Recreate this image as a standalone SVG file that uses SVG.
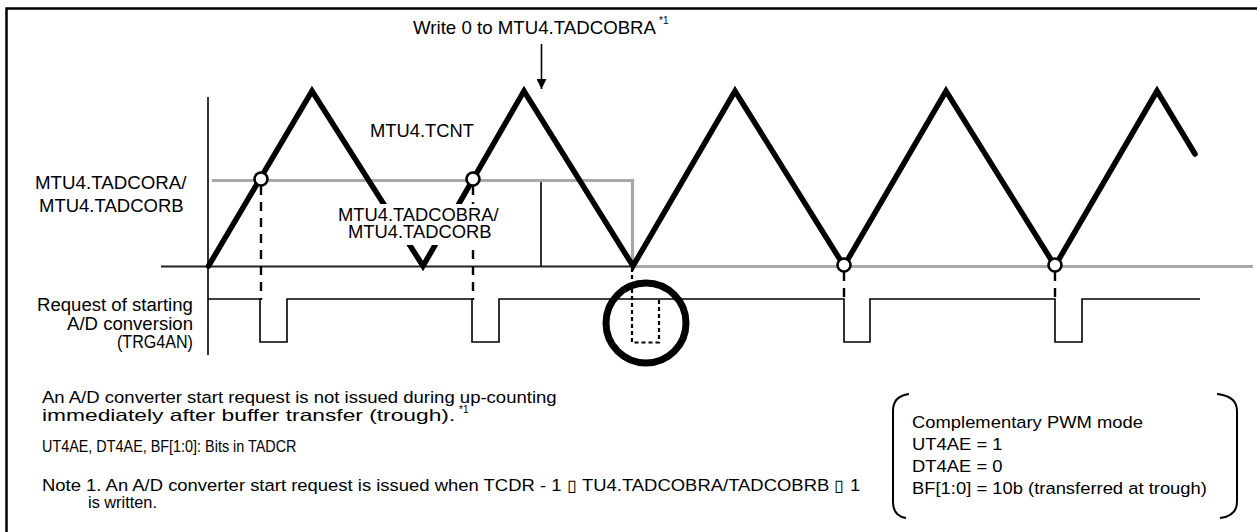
<svg xmlns="http://www.w3.org/2000/svg" width="1257" height="532" viewBox="0 0 1257 532">
<style>
text{font-family:"Liberation Sans",Arial,Helvetica,sans-serif;fill:#000}
.t{font-size:18px}
.n{font-size:16.5px}
.sup{font-size:10px}
.wave{fill:none;stroke:#000;stroke-width:5.5;stroke-linejoin:miter;stroke-linecap:round}
.thin{fill:none;stroke:#000;stroke-width:1.6}
.gray{fill:none;stroke:#a8a8a8;stroke-width:3.2}
.dash{fill:none;stroke:#000;stroke-width:2.4;stroke-dasharray:9 7}
.dot{fill:none;stroke:#000;stroke-width:2.2;stroke-dasharray:4 3}
.mk{fill:#fff;stroke:#000;stroke-width:2.6}
</style>
<defs>
<marker id="ah" viewBox="0 0 10 10" refX="10" refY="5" markerWidth="10" markerHeight="10" markerUnits="userSpaceOnUse" orient="auto">
<path d="M0,0 L10,5 L0,10 z" fill="#000"/>
</marker>
</defs>
<rect x="6.5" y="8.5" width="1270" height="540" fill="#fff" stroke="#000" stroke-width="2.5"/>

<g id="connectors">
<line x1="541.5" y1="44" x2="541.5" y2="89" stroke="#000" stroke-width="1.6" marker-end="url(#ah)"/>
<line class="thin" x1="208" y1="97" x2="208" y2="355"/>
<line x1="161" y1="266.5" x2="633" y2="266.5" stroke="#222" stroke-width="2.2"/>
<polyline class="gray" points="212,180.5 632.5,180.5 632.5,266.5 1253,266.5"/>
<line class="thin" x1="541" y1="182" x2="541" y2="266"/>
<path class="dash" d="M261,186 V300 M473,186 V300 M844,272 V300 M1055,272 V300"/>
<path class="dot" d="M632,268 V342.5 H659 V300"/>
<polyline class="wave" points="208.5,266 312,91 423,266 524,91 633,266 735,91 844,266 946,91 1055,266 1157,91 1195,154"/>
<path class="thin" d="M208,299 H260 V342 H287 V299 H472 V342 H499 V299 H844 V342 H870 V299 H1055 V342 H1082 V299 H1200"/>
<circle class="mk" cx="261" cy="179" r="6.5"/>
<circle class="mk" cx="473" cy="179" r="6.5"/>
<circle class="mk" cx="844" cy="265" r="6.5"/>
<circle class="mk" cx="1055" cy="265" r="6.5"/>
<circle cx="646" cy="323" r="40" fill="none" stroke="#000" stroke-width="7"/>
<path d="M909,394 Q893,396 893,411 V502 Q893,516 906,518" fill="none" stroke="#000" stroke-width="2"/>
<path d="M1217,394 Q1237,396 1237,411 V502 Q1237,516 1220,518" fill="none" stroke="#000" stroke-width="2"/>
</g>

<g id="title">
<text class="t" transform="translate(413,34) scale(1.038,1)">Write 0 to MTU4.TADCOBRA</text>
<text class="sup" x="659" y="24">*1</text>
</g>
<g id="tcnt">
<text class="t" transform="translate(370,137) scale(1.02,1)">MTU4.TCNT</text>
</g>
<g id="tadcora">
<text class="t" transform="translate(35,189) scale(1.04,1)">MTU4.TADCORA/</text>
<text class="t" transform="translate(39,212) scale(1.028,1)">MTU4.TADCORB</text>
</g>
<g id="tadcobra">
<rect x="336" y="204" width="168" height="41" fill="#fff"/>
<text class="t" transform="translate(338,221) scale(1.019,1)">MTU4.TADCOBRA/</text>
<text class="t" transform="translate(348,238) scale(1.021,1)">MTU4.TADCORB</text>
</g>
<g id="trg4an">
<text class="t" transform="translate(37,311) scale(1.032,1)">Request of starting</text>
<text class="t" transform="translate(67,330) scale(1.033,1)">A/D conversion</text>
<text class="t" transform="translate(117,348) scale(0.894,1)">(TRG4AN)</text>
</g>
<g id="notes">
<text class="n" transform="translate(42,403) scale(1.123,1)">An A/D converter start request is not issued during up-counting</text>
<text class="n" transform="translate(42,421) scale(1.38,1)">immediately after buffer transfer (trough).</text>
<text class="sup" x="459" y="413">*1</text>
<text class="n" transform="translate(42,452) scale(0.873,1)">UT4AE, DT4AE, BF[1:0]: Bits in TADCR</text>
<text class="n" transform="translate(42,491) scale(1.118,1)">Note 1. An A/D converter start request is issued when TCDR - 1 ▯ TU4.TADCOBRA/TADCOBRB ▯ 1</text>
<text class="n" transform="translate(88,508) scale(0.99,1)">is written.</text>
</g>
<g id="mode-box">
<text class="n" transform="translate(912,428) scale(1.115,1)">Complementary PWM mode</text>
<text class="n" transform="translate(912,450) scale(1.115,1)">UT4AE = 1</text>
<text class="n" transform="translate(912,472) scale(1.115,1)">DT4AE = 0</text>
<text class="n" transform="translate(912,494) scale(1.115,1)">BF[1:0] = 10b (transferred at trough)</text>
</g>
</svg>
